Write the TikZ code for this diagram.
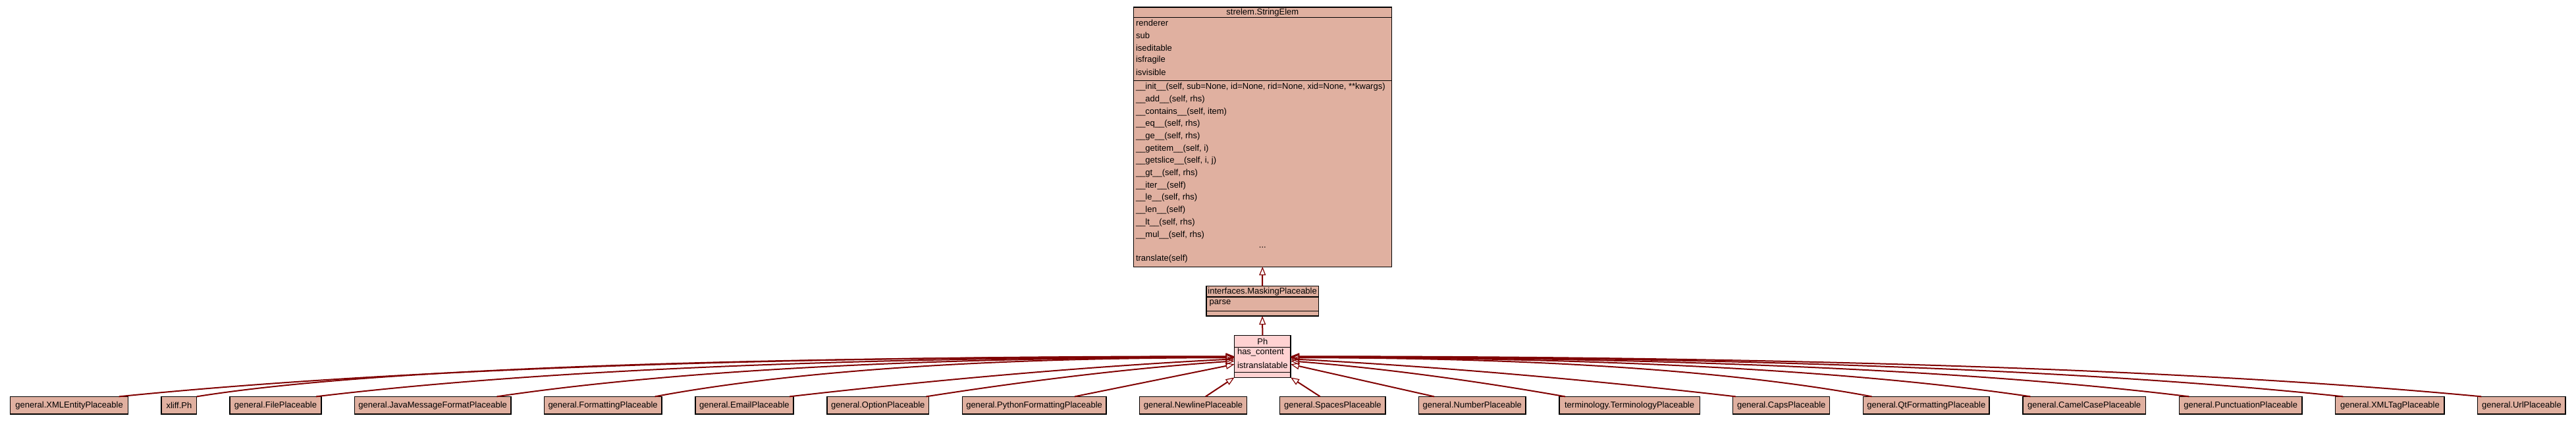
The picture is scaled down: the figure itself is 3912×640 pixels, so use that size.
\documentclass[tikz,border=0pt]{standalone}
\usepackage{fontspec}
\setmainfont{Liberation Sans}
\usetikzlibrary{arrows.meta,calc}
\definecolor{boxfill}{HTML}{E0B0A0}
\definecolor{phfill}{HTML}{FFD2D2}
\definecolor{edgecol}{HTML}{800000}
\begin{document}
\begin{tikzpicture}[x={(1pt,0)},y={(0,-1pt)},
  every node/.style={font=\fontsize{13}{15}\selectfont, inner sep=0pt, outer sep=0pt},
  frame/.style={draw=black, line width=1.3pt, fill=boxfill},
  phframe/.style={draw=black, line width=1.3pt, fill=phfill},
  leaf/.style={draw=black, line width=1.3pt, fill=boxfill, minimum height=26.7pt},
  txt/.style={anchor=west},
  sepline/.style={draw=black, line width=1.3pt},
  inh/.style={draw=edgecol, line width=2pt, -{Triangle[open,length=13pt,width=10pt,line width=1.2pt]}}
]
\useasboundingbox (0,0) rectangle (3912,640);

% ---------- strelem.StringElem ----------
\node[frame, minimum width=391.9pt, minimum height=394.3pt] (se) at (1917.3,208) {};
\node (setitle) at (1917.3,18.7) {strelem.StringElem};
\draw[sepline] (1721.3,26.7) -- (2113.2,26.7);
\draw[sepline] (1721.3,122.3) -- (2113.2,122.3);
\node[txt] (sea1) at (1725,35) {renderer};
\node[txt] (sea2) at (1725,53.8) {sub};
\node[txt] (sea3) at (1725,72.5) {iseditable};
\node[txt] (sea4) at (1725,91.3) {isfragile};
\node[txt] (sea5) at (1725,110) {isvisible};
\node[txt] (sem1) at (1725,132.3) {\_\_init\_\_(self, sub=None, id=None, rid=None, xid=None, **kwargs)};
\node[txt] (sem2) at (1725,151) {\_\_add\_\_(self, rhs)};
\node[txt] (sem3) at (1725,169.7) {\_\_contains\_\_(self, item)};
\node[txt] (sem4) at (1725,188.4) {\_\_eq\_\_(self, rhs)};
\node[txt] (sem5) at (1725,207.1) {\_\_ge\_\_(self, rhs)};
\node[txt] (sem6) at (1725,225.8) {\_\_getitem\_\_(self, i)};
\node[txt] (sem7) at (1725,244.5) {\_\_getslice\_\_(self, i, j)};
\node[txt] (sem8) at (1725,263.2) {\_\_gt\_\_(self, rhs)};
\node[txt] (sem9) at (1725,281.9) {\_\_iter\_\_(self)};
\node[txt] (sem10) at (1725,300.6) {\_\_le\_\_(self, rhs)};
\node[txt] (sem11) at (1725,319.3) {\_\_len\_\_(self)};
\node[txt] (sem12) at (1725,338) {\_\_lt\_\_(self, rhs)};
\node[txt] (sem13) at (1725,356.7) {\_\_mul\_\_(self, rhs)};
\node (sedots) at (1917.3,375.5) {...};
\node[txt] (sem14) at (1725,393.3) {translate(self)};

% ---------- interfaces.MaskingPlaceable ----------
\node[frame, minimum width=170.4pt, minimum height=45.7pt] (mask) at (1917.1,457.2) {};
\node (masktitle) at (1917.1,442.7) {interfaces.MaskingPlaceable};
\draw[sepline] (1831.9,451) -- (2002.3,451);
\node[txt] (maska1) at (1836.7,460.5) {parse};
\draw[sepline] (1831.9,472.3) -- (2002.3,472.3);

% ---------- Ph ----------
\node[phframe, minimum width=85.4pt, minimum height=64pt] (Ph) at (1917.3,541.3) {};
\node (phtitle) at (1917.3,518.3) {Ph};
\draw[sepline] (1874.6,527.3) -- (1960,527.3);
\node[txt] (pha1) at (1879,535.5) {has\_content};
\node[txt] (pha2) at (1879,554.5) {istranslatable};
\draw[sepline] (1874.6,565.7) -- (1960,565.7);

% ---------- leaf classes ----------
\node[leaf, minimum width=179pt] (xmlentity) at (105.1,615.7) {general.XMLEntityPlaceable};
\node[leaf, minimum width=53.7pt] (xliffph) at (271.9,615.7) {xliff.Ph};
\node[leaf, minimum width=139pt] (file) at (418.5,615.7) {general.FilePlaceable};
\node[leaf, minimum width=237.5pt] (java) at (657.2,615.7) {general.JavaMessageFormatPlaceable};
\node[leaf, minimum width=178.6pt] (formatting) at (915.6,615.7) {general.FormattingPlaceable};
\node[leaf, minimum width=149.1pt] (email) at (1130.4,615.7) {general.EmailPlaceable};
\node[leaf, minimum width=154.7pt] (option) at (1333.2,615.7) {general.OptionPlaceable};
\node[leaf, minimum width=218.7pt] (python) at (1570.6,615.7) {general.PythonFormattingPlaceable};
\node[leaf, minimum width=162.5pt] (newline) at (1812,615.7) {general.NewlinePlaceable};
\node[leaf, minimum width=160.2pt] (spaces) at (2023.9,615.7) {general.SpacesPlaceable};
\node[leaf, minimum width=162.5pt] (number) at (2235.8,615.7) {general.NumberPlaceable};
\node[leaf, minimum width=213.4pt] (terminology) at (2474.6,615.7) {terminology.TerminologyPlaceable};
\node[leaf, minimum width=146.9pt] (caps) at (2705.2,615.7) {general.CapsPlaceable};
\node[leaf, minimum width=191.5pt] (qt) at (2925.3,615.7) {general.QtFormattingPlaceable};
\node[leaf, minimum width=186.6pt] (camel) at (3165.2,615.7) {general.CamelCasePlaceable};
\node[leaf, minimum width=186.6pt] (punct) at (3402.7,615.7) {general.PunctuationPlaceable};
\node[leaf, minimum width=165.3pt] (xmltag) at (3629.4,615.7) {general.XMLTagPlaceable};
\node[leaf, minimum width=133.3pt] (url) at (3829.4,615.7) {general.UrlPlaceable};

% ---------- inheritance edges ----------
\draw[inh] (mask.north) -- (se.south);
\draw[inh] (Ph.north) -- (mask.south);

% left side
\draw[inh] ([xshift=-14pt]xmlentity.north east) .. controls +(423.5,-42.5) and +(-677.6,0) .. (Ph.west);
\draw[inh] (xliffph.north east) .. controls +(300,-48) and +(-630,0) .. ([yshift=-0.5pt]Ph.west);
\draw[inh] ([xshift=-8pt]file.north east) .. controls +(348.7,-41.8) and +(-557.8,0) .. ([yshift=-1pt]Ph.west);
\draw[inh] ([xshift=-21.4pt]java.north east) .. controls +(280,-41.4) and +(-448,0) .. ([yshift=-1.5pt]Ph.west);
\draw[inh] ([xshift=-10.3pt]formatting.north east) .. controls +(220,-41) and +(-352,0) .. ([yshift=-2pt]Ph.west);
\draw[inh] ([xshift=-6pt]email.north east) .. controls +(223,-25.5) and +(-223,11.3) .. ([yshift=-4pt]Ph.west);
\draw[inh] ([xshift=-4pt]option.north east) .. controls +(154.4,-24.2) and +(-154.4,10.7) .. ([yshift=-7pt]Ph.west);
\draw[inh] ([xshift=-48pt]python.north east) -- ([yshift=-12pt]Ph.west);
\draw[inh] ([xshift=-62.5pt]newline.north east) -- (Ph.south west);

% right side
\draw[inh] ([xshift=61pt]spaces.north west) -- (Ph.south east);
\draw[inh] ([xshift=23.5pt]number.north west) -- ([yshift=-12pt]Ph.east);
\draw[inh] ([xshift=9pt]terminology.north west) .. controls +(-137.5,-24.2) and +(137.5,10.7) .. ([yshift=-7pt]Ph.east);
\draw[inh] ([xshift=4pt]caps.north west) .. controls +(-223,-25.5) and +(223,11.3) .. ([yshift=-4pt]Ph.east);
\draw[inh] ([xshift=13pt]qt.north west) .. controls +(-220.6,-41.1) and +(353,0) .. ([yshift=-2pt]Ph.east);
\draw[inh] ([xshift=11.6pt]camel.north west) .. controls +(-280.9,-41.4) and +(449.4,0) .. ([yshift=-1.5pt]Ph.east);
\draw[inh] ([xshift=15pt]punct.north west) .. controls +(-341,-41.8) and +(545.8,0) .. ([yshift=-1pt]Ph.east);
\draw[inh] ([xshift=11.6pt]xmltag.north west) .. controls +(-399.6,-42.1) and +(639.3,0) .. ([yshift=-0.5pt]Ph.east);
\draw[inh] ([xshift=5.6pt]url.north west) .. controls +(-452,-42.5) and +(723.3,0) .. (Ph.east);
\end{tikzpicture}
\end{document}
